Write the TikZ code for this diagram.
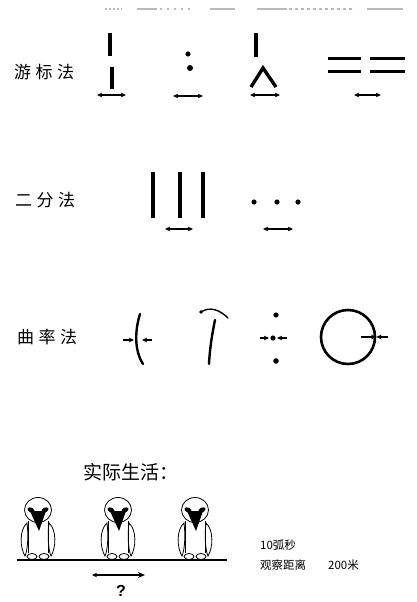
\documentclass[tikz,border=0pt]{standalone}
\usepackage{fontspec}
\newfontfamily\cjk{Noto Sans CJK SC}
\setsansfont{Liberation Sans}
\usetikzlibrary{arrows.meta}
\begin{document}
\begin{tikzpicture}[x=1pt,y=-1pt,
  bar/.style={line width=3.4pt},
  thin bar/.style={line width=2.4pt},
  tip/.tip={Stealth[length=5pt,width=4.5pt,inset=1pt]},
  dim/.style={line width=1.2pt,tip-tip},
  poke/.style={line width=1.2pt,-tip},
  scrap/.style={gray!55,line width=1.1pt},
  label/.style={font=\cjk\fontsize{17}{17}\selectfont,anchor=west,inner sep=0pt},
  note/.style={font=\cjk\fontsize{11.5}{11.5}\selectfont,anchor=west,inner sep=0pt},
  birdline/.style={line width=0.8pt},
  bird/.pic={
    % head
    \draw[birdline,fill=white] (0,-50) ellipse (13.5 and 12.5);
    % eyes and beak
    \fill[rotate around={-25:(-7,-50)}] (-7,-50) ellipse (3.8 and 2.4);
    \fill[rotate around={25:(7,-50)}] (7,-50) ellipse (3.8 and 2.4);
    \fill (-8,-49) -- (8,-49) -- (1,-29) -- cycle;
    % body
    \draw[birdline] (-10,-39) -- (-10,-7);
    \draw[birdline] (10,-39) -- (10,-7);
    % wings
    \draw[birdline] (-11,-37) .. controls (-19,-30) and (-18,-12) .. (-13,-4)
                    .. controls (-11,-8) and (-9,-22) .. cycle;
    \draw[birdline] (11,-37) .. controls (19,-30) and (18,-12) .. (13,-4)
                    .. controls (11,-8) and (9,-22) .. cycle;
    % feet
    \draw[birdline,fill=white] (-6,-3.5) ellipse (5 and 3);
    \draw[birdline,fill=white] (6,-3.5) ellipse (5 and 3);
  }]
\useasboundingbox (0,0) rectangle (416,602);

% faint cut-off line at the top
\draw[scrap,dash pattern=on 2pt off 2pt] (105,9) -- (122,9);
\draw[scrap] (137,9) -- (157,9);
\draw[scrap,dash pattern=on 2pt off 5pt] (160,9) -- (190,9);
\draw[scrap] (210,9) -- (235,9);
\draw[scrap] (257,9) -- (287,9);
\draw[scrap,dash pattern=on 3pt off 3pt] (289,9) -- (355,9);
\draw[scrap] (367,9) -- (403,9);

% ---- vernier row
\node[label] (lv) at (14,72) {游\hspace{4.5pt}标\hspace{4.5pt}法};
\coordinate (v1a) at (110,33); \coordinate (v1b) at (110,56);
\coordinate (v1c) at (112,67); \coordinate (v1d) at (112,89);
\draw[bar] (v1a) -- (v1b); \draw[bar] (v1c) -- (v1d);
\coordinate (a1l) at (97,95); \coordinate (a1r) at (126,95);
\draw[dim] (a1l) -- (a1r);

\fill (188,54) circle (2.6); \fill (190,68) circle (3);
\coordinate (a2l) at (173,96); \coordinate (a2r) at (203,96);
\draw[dim] (a2l) -- (a2r);

\coordinate (v3a) at (256,33); \coordinate (v3b) at (256,57);
\draw[bar] (v3a) -- (v3b);
\coordinate (l3a) at (251,87); \coordinate (l3b) at (263,68); \coordinate (l3c) at (276,87);
\draw[bar,line join=miter] (l3a) -- (l3b) -- (l3c);
\coordinate (a3l) at (250,95); \coordinate (a3r) at (280,95);
\draw[dim] (a3l) -- (a3r);

\draw[line width=3pt] (328,59) -- (361,59) (328,71) -- (361,71)
                      (370,59) -- (405,59) (370,71) -- (405,71);
\coordinate (a4l) at (354,95); \coordinate (a4r) at (381,95);
\draw[dim] (a4l) -- (a4r);

% ---- bisection row
\node[label] (lb) at (15,200) {二\hspace{4.5pt}分\hspace{4.5pt}法};
\draw[bar] (153,172) -- (153,218) (180,172) -- (180,218) (203,172) -- (203,218);
\coordinate (b1l) at (165,229); \coordinate (b1r) at (193,229);
\draw[dim] (b1l) -- (b1r);
\fill (254,202) circle (2.6) (277,202) circle (2.6) (298,202) circle (2.6);
\coordinate (b2l) at (263,229); \coordinate (b2r) at (293,229);
\draw[dim] (b2l) -- (b2r);

% ---- curvature row
\node[label] (lc) at (17,337) {曲\hspace{4.5pt}率\hspace{4.5pt}法};
\draw[thin bar,line cap=round] (140,314) .. controls (135,330) and (134,350) .. (143,364);
\coordinate (c1a) at (123,340); \coordinate (c1b) at (134,340);
\coordinate (c1c) at (152,340); \coordinate (c1d) at (142,340);
\draw[poke] (c1a) -- (c1b); \draw[poke] (c1c) -- (c1d);

\draw[thin bar,line cap=round] (209,364) .. controls (210,345) and (213,330) .. (215,320);
\draw[line width=1.4pt,line cap=round] (201,312) .. controls (210,306) and (220,310) .. (228,318);
\fill (201,312) circle (1.8);

\fill (276,315) circle (2.6) (276,361) circle (2.8) (273,338) circle (2.6);
\coordinate (c3a) at (260,338); \coordinate (c3b) at (269,338);
\coordinate (c3c) at (287,338); \coordinate (c3d) at (277,338);
\draw[poke] (c3a) -- (c3b); \draw[poke] (c3c) -- (c3d);

\node[circle,draw,line width=2.6pt,minimum size=54pt,inner sep=0pt] (ring) at (348,337) {};
\coordinate (c4a) at (361,337); \coordinate (c4c) at (388,337);
\draw[poke] (c4a) -- (ring.east); \draw[poke] (c4c) -- (ring.east);

% ---- real life
\node[font=\cjk\fontsize{19}{19}\selectfont,inner sep=0pt] (life) at (131,472) {实际生活：};
\coordinate (g1) at (17,560); \coordinate (g2) at (227,560);
\pic at (38,560) {bird};
\pic at (118,560) {bird};
\pic at (195,560) {bird};
\draw[line width=1.6pt] (g1) -- (g2);
\coordinate (q1) at (92,575); \coordinate (q2) at (145,575);
\draw[line width=1.4pt,{Stealth[length=5pt,width=4.5pt]}-{Stealth[length=7pt,width=6pt]}] (q1) -- (q2);
\node[font=\sffamily\bfseries\fontsize{16}{16}\selectfont,inner sep=0pt] (qm) at (121,591) {?};

\node[note] (arc) at (260,545) {10弧秒};
\node[note] (dist) at (260,565) {观察距离\hspace{22pt}200米};
\end{tikzpicture}
\end{document}
